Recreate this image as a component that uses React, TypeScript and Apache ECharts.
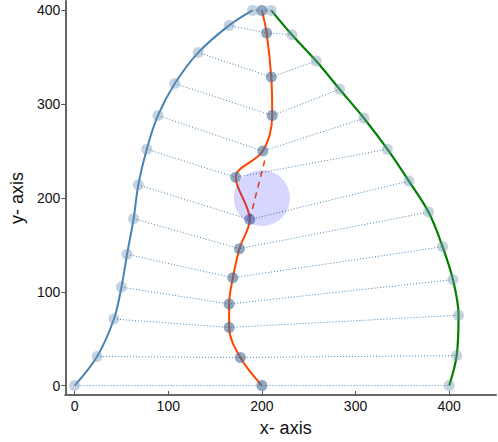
import React, { useEffect, useRef } from "react";
import * as echarts from "echarts";

const leftX = [0, 24, 42, 50, 56, 63, 68, 77, 89, 107, 132, 165, 190];
const leftY = [0, 31, 71, 105, 140, 178, 214, 252, 288, 322, 355, 384, 400];
const midX = [200, 177, 165, 165, 169, 176, 187, 172, 201, 211, 210, 205, 200];
const midY = [0, 30, 62, 87, 115, 146, 177, 222, 250, 288, 329, 376, 400];
const rightX = [400, 408, 410, 404, 393, 378, 357, 334, 309, 283, 258, 232, 210];
const rightY = [0, 32, 75, 113, 148, 185, 218, 252, 285, 316, 346, 374, 400];
const dashX = [187, 203];
const dashY = [177, 240];
const circleCenter = [200, 200];
const tickValues = [0, 100, 200, 300, 400];

const zip = (xs: number[], ys: number[]) => xs.map((x, i) => [x, ys[i]]);

export default function App() {
  const ref = useRef<HTMLDivElement>(null);
  useEffect(() => {
    if (!ref.current) return;
    const chart = echarts.init(ref.current, undefined, { renderer: "svg" });
    const font = "Liberation Sans, Arial, sans-serif";
    const rows = leftX.map((_, i) => ({
      type: "line",
      data: [
        [leftX[i], leftY[i]],
        [midX[i], midY[i]],
        [rightX[i], rightY[i]],
      ],
      symbol: "none",
      silent: true,
      z: 1,
      lineStyle: { color: "#4682b4", width: 1, type: [1, 2] },
    }));
    const curve = (data: number[][], color: string, width: number) => ({
      type: "line",
      data,
      smooth: 0.35,
      symbol: "none",
      z: 2,
      lineStyle: { color, width },
    });
    chart.setOption({
      animation: false,
      grid: { left: 62, right: 2, top: 1, bottom: 45 },
      xAxis: {
        type: "value",
        min: -10,
        max: 450,
        name: "x- axis",
        nameLocation: "middle",
        nameGap: 24,
        nameTextStyle: { fontSize: 18, color: "#111", fontFamily: font, padding: [0, 0, 0, 10] },
        splitLine: { show: false },
        axisLine: { show: true, onZero: false, lineStyle: { color: "#666", width: 2 } },
        axisTick: { show: true, inside: true, length: 4, customValues: tickValues, lineStyle: { color: "#555" } },
        axisLabel: { customValues: tickValues, fontSize: 14, color: "#111", fontFamily: font, margin: 4 },
      },
      yAxis: {
        type: "value",
        min: -10,
        max: 410,
        name: "y- axis",
        nameLocation: "middle",
        nameGap: 36,
        nameTextStyle: { fontSize: 18, color: "#111", fontFamily: font },
        splitLine: { show: false },
        axisLine: { show: true, onZero: false, lineStyle: { color: "#666", width: 2 } },
        axisTick: { show: true, inside: false, length: 4, customValues: tickValues, lineStyle: { color: "#555" } },
        axisLabel: { customValues: tickValues, fontSize: 14, color: "#111", fontFamily: font, margin: 5 },
      },
      series: [
        ...rows,
        curve(zip(leftX, leftY), "#4682b4", 2),
        curve(zip(midX, midY), "#ff4500", 2),
        curve(zip(rightX, rightY), "#008000", 2.2),
        {
          type: "line",
          data: zip(dashX, dashY),
          symbol: "none",
          z: 3,
          lineStyle: { color: "#ff4500", width: 1.5, type: [6, 5] },
        },
        {
          type: "scatter",
          data: [...zip(leftX, leftY), ...zip(rightX, rightY)],
          symbolSize: 11,
          z: 4,
          itemStyle: { color: "rgba(110,145,180,0.5)" },
        },
        {
          type: "scatter",
          data: zip(midX, midY),
          symbolSize: 11,
          z: 4,
          itemStyle: { color: "rgba(70,110,150,0.75)" },
        },
        {
          type: "scatter",
          data: [circleCenter],
          symbolSize: 56,
          z: 5,
          itemStyle: { color: "rgba(0,0,255,0.2)" },
        },
      ],
    });
    return () => chart.dispose();
  }, []);
  return (
    <div
      ref={ref}
      style={{ position: "absolute", left: 0, top: 0, width: 498, height: 442 }}
    />
  );
}
